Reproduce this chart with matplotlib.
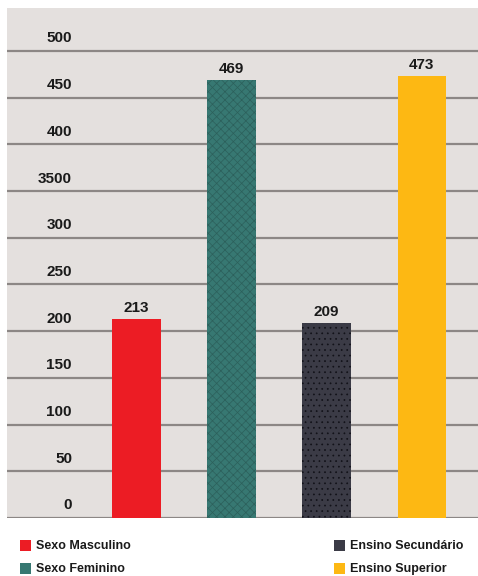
import matplotlib
matplotlib.use("Agg")
import matplotlib.pyplot as plt
from matplotlib.patches import Rectangle
import matplotlib.transforms as mtransforms

categorias = ["Sexo Masculino", "Sexo Feminino", "Ensino Secundário", "Ensino Superior"]
valores = [213, 469, 209, 473]
cores = ["#ec1c24", "#377872", "#3b3b46", "#fdb813"]
hatches = [None, "xxxx", "...", None]
hatch_cores = ["#ec1c24", "#2c605b", "#111118", "#fdb813"]

yticks = [0, 50, 100, 150, 200, 250, 300, 350, 400, 450, 500]
ytick_labels = ["0", "50", "100", "150", "200", "250", "300", "3500", "400", "450", "500"]

plt.rcParams["font.family"] = ["Liberation Sans Narrow", "Liberation Sans", "DejaVu Sans"]
plt.rcParams["hatch.linewidth"] = 0.5

W, H = 478, 576
fig = plt.figure(figsize=(W / 100, H / 100), dpi=100)
fig.patch.set_facecolor("white")

ax = fig.add_axes([7 / W, (H - 518) / H, (W - 7) / W, 510 / H])
ax.set_facecolor("#e4e0de")
for s in ax.spines.values():
    s.set_visible(False)
ax.set_xticks([])
ax.set_yticks([])
ax.set_xlim(-1.36, 3.59)
ax.set_ylim(0, 546)

# linhas de grelha atrás das barras
for y in yticks:
    ax.axhline(y, color="#8c8785", lw=1.6, zorder=1)

trans = mtransforms.blended_transform_factory(ax.transAxes, ax.transData)
for y, lab in zip(yticks, ytick_labels):
    ax.annotate(lab, (0.138, y), xycoords=trans, xytext=(0, 4), textcoords="offset points",
                ha="right", va="bottom", fontsize=11, fontweight="bold", color="#1a1a1a")

for i, v in enumerate(valores):
    ax.bar(i, v, width=0.51, color=cores[i], zorder=2, linewidth=0)
    if hatches[i]:
        ax.bar(i, v, width=0.51, color="none", edgecolor=hatch_cores[i], hatch=hatches[i],
               linewidth=0, zorder=3)
    ax.annotate(str(v), (i, v), xytext=(0, 3), textcoords="offset points",
                ha="center", va="bottom", fontsize=11, fontweight="bold", color="#1a1a1a")

# legenda por baixo do gráfico
leg_pos = [(20, 546), (20, 569), (334, 546), (334, 569)]
for (px, py), nome, cor in zip(leg_pos, categorias, cores):
    fig.add_artist(Rectangle((px / W, 1 - (py + 5) / H), 11 / W, 11 / H,
                             transform=fig.transFigure, facecolor=cor, edgecolor="none"))
    fig.text((px + 16) / W, 1 - py / H, nome, ha="left", va="center",
             fontsize=9, fontweight="bold", color="#1a1a1a")

fig.savefig("out.png", dpi=100)
